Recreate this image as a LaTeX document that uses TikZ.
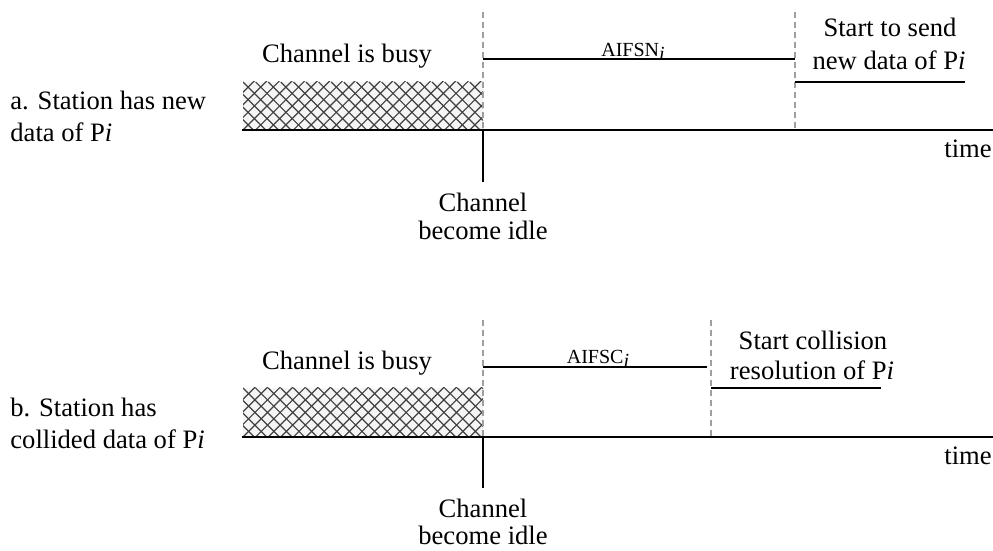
\documentclass[tikz,border=0pt]{standalone}
\usepackage{fontspec}
\setmainfont{Liberation Serif}
\begin{document}
\begin{tikzpicture}[x=0.5pt,y=-0.5pt,
  txt/.style={inner sep=0pt,anchor=base,font=\fontsize{13.3}{16}\selectfont},
  lefttxt/.style={txt,anchor=base west},
  small/.style={inner sep=0pt,anchor=base,font=\fontsize{10}{12}\selectfont},
  axis/.style={line width=1pt,black},
  bar/.style={line width=1pt,black},
  guide/.style={line width=0.75pt,gray!75,dash pattern=on 3pt off 2pt},
  hatchline/.style={line width=0.6pt,black!75}]
\useasboundingbox (0,0) rectangle (993,551);

% ---------------- a. new data ----------------
\coordinate (a-ax0) at (242,130);
\coordinate (a-ax1) at (993,130);
\coordinate (a-idle) at (483,130);
\coordinate (a-tick) at (483,182);
\coordinate (a-g1) at (483,12);
\coordinate (a-g2) at (795,12);
\coordinate (a-g2b) at (795,130);
\coordinate (a-w0) at (483,59);
\coordinate (a-w1) at (795,59);
\coordinate (a-s0) at (795,82);
\coordinate (a-s1) at (965,82);

% busy period
\begin{scope}
  \clip (243,82) rectangle (483,130);
  \fill[gray!8] (243,82) rectangle (483,130);
  \foreach \k in {-5,...,20} {
    \draw[hatchline] (243+\k*12.6,130) -- ++(60,-60);
    \draw[hatchline] (243+\k*12.6,82) -- ++(60,60);
  }
\end{scope}

\draw[guide] (a-g1) -- (a-idle);
\draw[guide] (a-g2) -- (a-g2b);
\draw[axis] (a-ax0) -- (a-ax1);
\draw[bar] (a-idle) -- (a-tick);
\draw[bar] (a-w0) -- (a-w1);
\draw[bar] (a-s0) -- (a-s1);

\node[lefttxt] (a-lab1) at (10,110) {a. Station has new};
\node[lefttxt] (a-lab2) at (10,142) {data of P\textit{i}};
\node[txt] (a-busy) at (347,63) {Channel is busy};
\node[small] (a-aifs) at (633,57) {AIFSN\raisebox{-0.35ex}{\itshape i}};
\node[txt] (a-send1) at (890,37) {Start to send};
\node[txt] (a-send2) at (889,70) {new data of P\textit{i}};
\node[txt] (a-time) at (968,158) {time};
\node[txt] (a-idle1) at (483,212) {Channel};
\node[txt] (a-idle2) at (483,240) {become idle};

% ---------------- b. collided data ----------------
\coordinate (b-ax0) at (242,437);
\coordinate (b-ax1) at (993,437);
\coordinate (b-idle) at (483,437);
\coordinate (b-tick) at (483,488);
\coordinate (b-g1) at (483,320);
\coordinate (b-g2) at (711,320);
\coordinate (b-g2b) at (711,437);
\coordinate (b-w0) at (483,367);
\coordinate (b-w1) at (707,367);
\coordinate (b-s0) at (711,388);
\coordinate (b-s1) at (881,388);

\begin{scope}
  \clip (243,388) rectangle (483,437);
  \fill[gray!8] (243,388) rectangle (483,437);
  \foreach \k in {-5,...,20} {
    \draw[hatchline] (243+\k*12.6,437) -- ++(60,-60);
    \draw[hatchline] (243+\k*12.6,388) -- ++(60,60);
  }
\end{scope}

\draw[guide] (b-g1) -- (b-idle);
\draw[guide] (b-g2) -- (b-g2b);
\draw[axis] (b-ax0) -- (b-ax1);
\draw[bar] (b-idle) -- (b-tick);
\draw[bar] (b-w0) -- (b-w1);
\draw[bar] (b-s0) -- (b-s1);

\node[lefttxt] (b-lab1) at (10,417) {b. Station has};
\node[lefttxt] (b-lab2) at (10,449) {collided data of P\textit{i}};
\node[txt] (b-busy) at (347,370) {Channel is busy};
\node[small] (b-aifs) at (598,364) {AIFSC\raisebox{-0.35ex}{\itshape i}};
\node[txt] (b-res1) at (813,350) {Start collision};
\node[txt] (b-res2) at (812,380) {resolution of P\textit{i}};
\node[txt] (b-time) at (968,465) {time};
\node[txt] (b-idle1) at (483,517) {Channel};
\node[txt] (b-idle2) at (483,545) {become idle};
\end{tikzpicture}
\end{document}
